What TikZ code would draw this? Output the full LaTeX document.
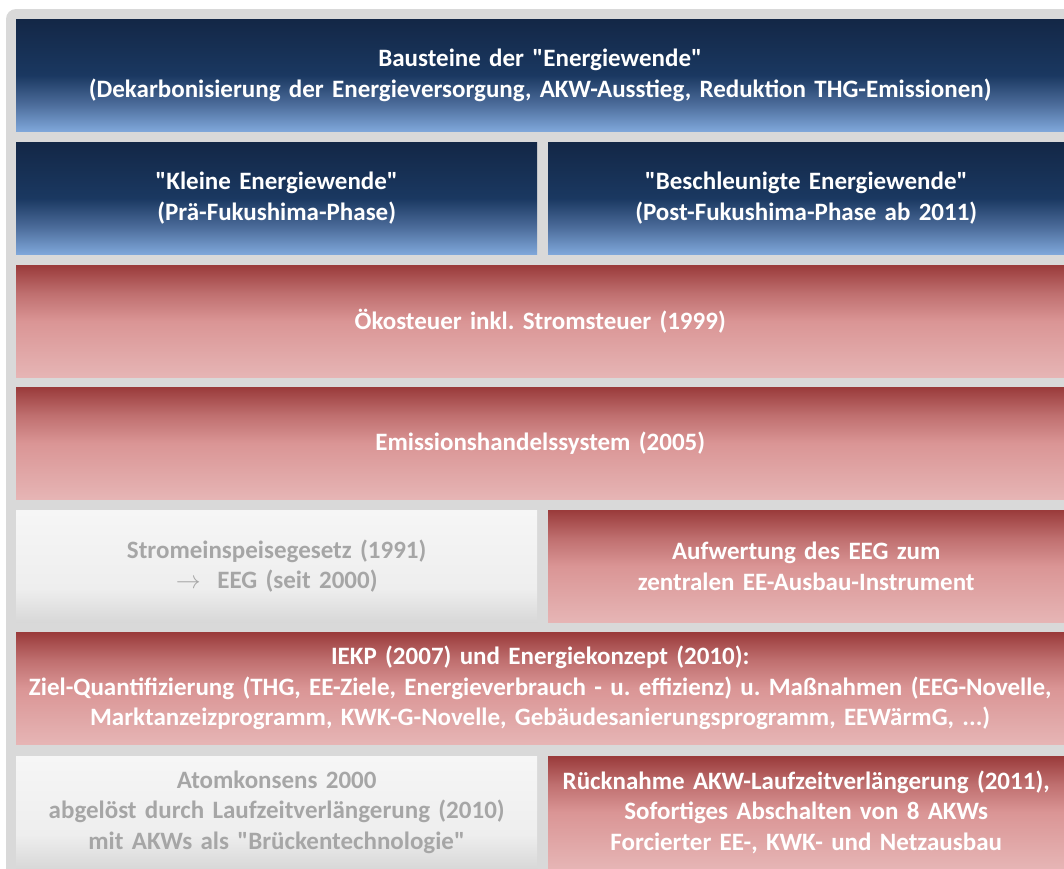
\documentclass[tikz,border=0pt]{standalone}
\usepackage{fontspec}
\setmainfont{Carlito}
\definecolor{outergray}{HTML}{D9D9D9}
\definecolor{bTop}{HTML}{132746}
\definecolor{bMid}{HTML}{1A3861}
\definecolor{bLow}{HTML}{4A6A98}
\definecolor{bBot}{HTML}{7FA7DA}
\definecolor{rTop}{HTML}{9A3B3B}
\definecolor{rUp}{HTML}{BF6F6F}
\definecolor{rMid}{HTML}{DA9595}
\definecolor{rBot}{HTML}{E6B5B5}
\definecolor{gTop}{HTML}{F6F6F6}
\definecolor{gMid}{HTML}{EEEEEE}
\definecolor{gBot}{HTML}{D8D8D8}
\definecolor{graytext}{HTML}{A6A6A6}
\pgfdeclareverticalshading{blueshade}{100bp}{color(0bp)=(bBot); color(25bp)=(bBot); color(37.5bp)=(bLow); color(50bp)=(bMid); color(75bp)=(bTop); color(100bp)=(bTop)}
\pgfdeclareverticalshading{redshade}{100bp}{color(0bp)=(rBot); color(25bp)=(rBot); color(50bp)=(rMid); color(62.5bp)=(rUp); color(75bp)=(rTop); color(100bp)=(rTop)}
\pgfdeclareverticalshading{grayshade}{100bp}{color(0bp)=(gBot); color(25bp)=(gBot); color(40bp)=(gMid); color(75bp)=(gTop); color(100bp)=(gTop)}
\newcommand{\qq}{\textquotedbl}
\tikzset{
  box/.style={rectangle, anchor=north west, inner xsep=0pt, inner ysep=0pt,
    minimum height=112pt, align=center,
    font=\fontsize{25}{30.5}\selectfont\bfseries\frenchspacing},
  full/.style={box, text width=1048pt},
  lefthalf/.style={box, text width=521pt},
  righthalf/.style={box, text width=516pt},
  bluebox/.style={shading=blueshade, text=white},
  redbox/.style={shading=redshade, text=white},
  graybox/.style={shading=grayshade, text=graytext},
}
\begin{document}
\begin{tikzpicture}[x=1pt,y=-1pt]
\useasboundingbox (0,0) rectangle (1064,868);
\fill[white] (0,0) rectangle (1064,868);
\fill[outergray, rounded corners=10pt] (6,9) rectangle (1100,900);
\node[full, bluebox] (r1) at (16,19) {\rule{0pt}{6pt}Bausteine der \qq Energiewende\qq\\(Dekarbonisierung der Energieversorgung, AKW-Ausstieg, Reduktion THG-Emissionen)};
\node[lefthalf, bluebox] (r2l) at (16,142) {\qq Kleine Energiewende\qq\\(Prä-Fukushima-Phase)};
\node[righthalf, bluebox] (r2r) at (548,142) {\qq Beschleunigte Energiewende\qq\\(Post-Fukushima-Phase ab 2011)};
\node[full, redbox] (r3) at (16,265) {Ökosteuer inkl. Stromsteuer (1999)};
\node[full, redbox] (r4) at (16,387) {Emissionshandelssystem (2005)};
\node[lefthalf, graybox] (r5l) at (16,510) {Stromeinspeisegesetz (1991)\\$\rightarrow$\ \ EEG (seit 2000)};
\node[righthalf, redbox] (r5r) at (548,510) {Aufwertung des EEG zum\\zentralen EE-Ausbau-Instrument};
\node[full, redbox] (r6) at (16,632) {IEKP (2007) und Energiekonzept (2010):\\Ziel-Quantifizierung (THG, EE-Ziele, Energieverbrauch - u. effizienz) u. Maßnahmen (EEG-Novelle,\\Marktanzeizprogramm, KWK-G-Novelle, Gebäudesanierungsprogramm, EEWärmG, ...)};
\node[lefthalf, graybox] (r7l) at (16,756) {Atomkonsens 2000\\abgelöst durch Laufzeitverlängerung (2010)\\mit AKWs als \qq Brückentechnologie\qq};
\node[righthalf, redbox] (r7r) at (548,756) {Rücknahme AKW-Laufzeitverlängerung (2011),\\Sofortiges Abschalten von 8 AKWs\\Forcierter EE-, KWK- und Netzausbau};
\end{tikzpicture}
\end{document}
